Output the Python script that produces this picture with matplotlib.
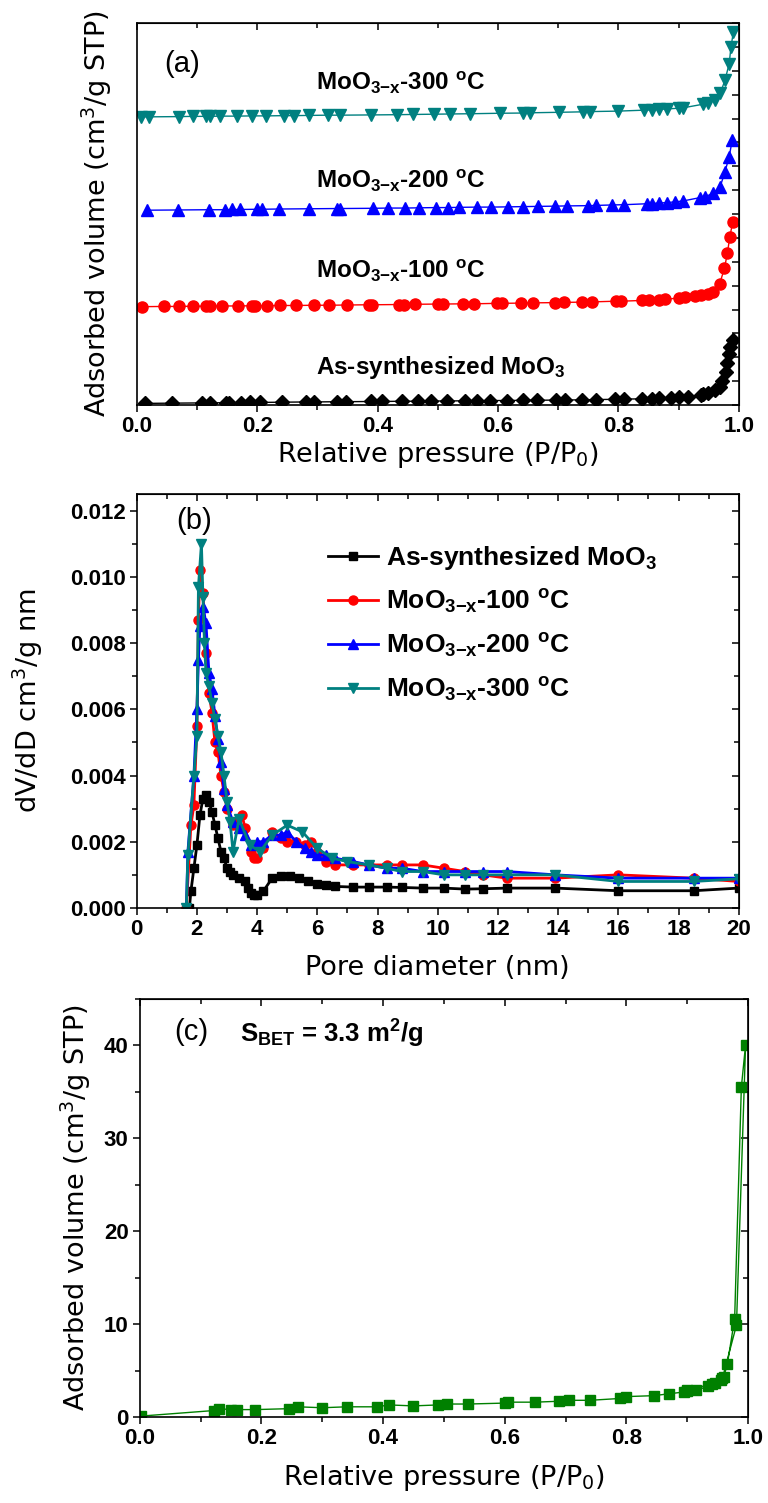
import numpy as np
import matplotlib
matplotlib.use("Agg")
import matplotlib.pyplot as plt
from matplotlib.ticker import MultipleLocator

NARROW = ['Liberation Sans', 'DejaVu Sans']
plt.rcParams['mathtext.fontset'] = 'custom'
plt.rcParams['mathtext.rm'] = 'Liberation Sans:bold'
plt.rcParams['mathtext.it'] = 'Liberation Sans:bold'
plt.rcParams['mathtext.bf'] = 'Liberation Sans:bold'

# ---- panel (a): N2 isotherms, stacked (arbitrary offset units) ----
a_black_x = [0.013, 0.059, 0.108, 0.121, 0.149, 0.154, 0.174, 0.188, 0.204, 0.241, 0.281, 0.294,
             0.333, 0.347, 0.389, 0.408, 0.440, 0.467, 0.489, 0.515, 0.546, 0.566, 0.587, 0.615,
             0.642, 0.665, 0.696, 0.712, 0.739, 0.763, 0.794, 0.810, 0.839, 0.855, 0.867, 0.888,
             0.900, 0.916, 0.937, 0.949, 0.969, 0.978, 0.984, 0.990, 0.986, 0.980, 0.972, 0.960, 0.940]
a_black_y = [0.7, 0.8, 0.9, 0.9, 1.0, 1.0, 1.0, 1.1, 1.1, 1.2, 1.3, 1.3,
             1.4, 1.4, 1.5, 1.5, 1.6, 1.6, 1.7, 1.7, 1.8, 1.8, 1.9, 1.9,
             2.0, 2.0, 2.1, 2.1, 2.2, 2.3, 2.4, 2.5, 2.6, 2.7, 2.8, 3.0,
             3.2, 3.5, 4.2, 5.2, 7.7, 14.0, 21.3, 27.2, 24.5, 17.5, 10.0, 6.5, 4.6]

a_red_x = [0.009, 0.046, 0.070, 0.094, 0.115, 0.121, 0.141, 0.169, 0.192, 0.196, 0.216, 0.238,
           0.265, 0.294, 0.320, 0.349, 0.385, 0.391, 0.436, 0.444, 0.463, 0.500, 0.509, 0.542,
           0.560, 0.599, 0.607, 0.638, 0.658, 0.695, 0.709, 0.740, 0.756, 0.796, 0.805, 0.839,
           0.851, 0.867, 0.877, 0.900, 0.910, 0.928, 0.938, 0.949, 0.957, 0.968, 0.976, 0.981,
           0.985, 0.990]
a_red_y = [41.2, 41.3, 41.3, 41.4, 41.4, 41.4, 41.5, 41.5, 41.6, 41.6, 41.6, 41.7,
           41.7, 41.8, 41.8, 41.9, 42.0, 42.0, 42.1, 42.1, 42.2, 42.3, 42.3, 42.4,
           42.4, 42.6, 42.6, 42.7, 42.8, 42.9, 43.0, 43.1, 43.2, 43.5, 43.5, 43.8,
           43.9, 44.1, 44.3, 44.8, 45.1, 45.6, 46.0, 46.7, 47.4, 50.6, 57.2, 63.5,
           70.5, 76.7]

a_blue_x = [0.017, 0.068, 0.120, 0.147, 0.159, 0.172, 0.200, 0.208, 0.237, 0.286, 0.333, 0.338,
            0.393, 0.417, 0.446, 0.469, 0.497, 0.517, 0.535, 0.566, 0.588, 0.617, 0.641, 0.666,
            0.695, 0.714, 0.749, 0.762, 0.790, 0.809, 0.847, 0.855, 0.867, 0.881, 0.894, 0.908,
            0.936, 0.944, 0.957, 0.969, 0.977, 0.984, 0.989]
a_blue_y = [81.6, 81.7, 81.8, 81.8, 81.9, 81.9, 82.0, 82.0, 82.1, 82.2, 82.3, 82.3,
            82.4, 82.5, 82.5, 82.6, 82.7, 82.7, 82.8, 82.9, 82.9, 83.0, 83.1, 83.2,
            83.3, 83.4, 83.5, 83.6, 83.8, 83.9, 84.3, 84.4, 84.6, 84.8, 85.1, 85.5,
            86.9, 87.3, 88.6, 91.4, 97.7, 104.0, 110.9]

a_teal_x = [0.007, 0.021, 0.070, 0.094, 0.115, 0.121, 0.139, 0.166, 0.192, 0.215, 0.245, 0.261,
            0.286, 0.318, 0.338, 0.389, 0.432, 0.459, 0.493, 0.521, 0.554, 0.603, 0.642, 0.654,
            0.701, 0.741, 0.753, 0.800, 0.843, 0.855, 0.867, 0.880, 0.900, 0.908, 0.941, 0.949,
            0.961, 0.969, 0.977, 0.984, 0.987, 0.991]
a_teal_y = [120.7, 120.7, 120.8, 120.9, 120.9, 120.9, 121.0, 121.0, 121.1, 121.1, 121.2, 121.2,
            121.3, 121.4, 121.4, 121.5, 121.6, 121.7, 121.8, 121.9, 122.0, 122.2, 122.3, 122.4,
            122.6, 122.8, 122.9, 123.1, 123.5, 123.6, 123.8, 124.0, 124.3, 124.5, 126.0, 126.5,
            127.7, 130.5, 136.0, 143.0, 150.0, 156.3]

# ---- panel (b): pore size distribution ----
b_black_x = [1.75, 1.8, 1.9, 2.0, 2.1, 2.2, 2.3, 2.4, 2.5, 2.6, 2.7, 2.8, 2.9, 3.0, 3.1, 3.2, 3.4,
             3.6, 3.7, 3.8, 3.9, 4.0, 4.2, 4.5, 4.8, 5.1, 5.4, 5.7, 6.0, 6.3, 6.6, 7.2, 7.7, 8.3,
             8.8, 9.5, 10.2, 10.9, 11.5, 12.3, 13.9, 16.0, 18.5, 20.0]
b_black_y = [0.0, 0.0005, 0.0012, 0.0019, 0.0028, 0.0033, 0.0034, 0.0032, 0.0029, 0.0025, 0.0021,
             0.0017, 0.0015, 0.0012, 0.0011, 0.0010, 0.0009, 0.0008, 0.0006, 0.00045, 0.0004,
             0.00038, 0.0005, 0.0009, 0.00097, 0.00097, 0.0009, 0.0008, 0.00072, 0.00068, 0.00065,
             0.00063, 0.00063, 0.00063, 0.00062, 0.0006, 0.0006, 0.00057, 0.00058, 0.0006, 0.0006,
             0.00052, 0.00052, 0.0006]

b_red_x = [1.65, 1.8, 1.9, 2.0, 2.05, 2.1, 2.2, 2.3, 2.4, 2.5, 2.6, 2.7, 2.8, 2.9, 3.0, 3.2, 3.3,
           3.5, 3.6, 3.8, 3.9, 4.0, 4.2, 4.5, 4.8, 5.0, 5.3, 5.6, 5.8, 6.0, 6.3, 6.6, 7.2, 7.7,
           8.3, 8.8, 9.5, 10.2, 10.9, 11.5, 12.3, 13.9, 16.0, 18.5, 20.0]
b_red_y = [0.0, 0.0025, 0.0031, 0.0055, 0.0087, 0.0102, 0.0095, 0.0077, 0.0065, 0.0059, 0.0050,
           0.0047, 0.0040, 0.0035, 0.0030, 0.0025, 0.0026, 0.0028, 0.0024, 0.0017, 0.0015, 0.0015,
           0.0018, 0.0023, 0.0021, 0.0020, 0.0020, 0.0019, 0.0020, 0.0017, 0.0014, 0.0013, 0.0013,
           0.0013, 0.0013, 0.0013, 0.0013, 0.0012, 0.0011, 0.0010, 0.0009, 0.0009, 0.0010, 0.0009,
           0.0008]

b_blue_x = [1.65, 1.7, 1.9, 2.0, 2.05, 2.1, 2.2, 2.3, 2.4, 2.5, 2.6, 2.7, 2.8, 2.9, 3.0, 3.2, 3.4,
            3.6, 3.8, 4.0, 4.2, 4.5, 4.8, 5.0, 5.3, 5.6, 5.8, 6.0, 6.3, 6.6, 7.2, 7.7, 8.3, 8.8,
            9.5, 10.2, 10.9, 11.5, 12.3, 13.9, 16.0, 18.5, 20.0]
b_blue_y = [0.0, 0.0017, 0.0040, 0.0060, 0.0075, 0.0085, 0.0091, 0.0086, 0.0071, 0.0066, 0.0058,
            0.0051, 0.0044, 0.0036, 0.0031, 0.0026, 0.0024, 0.0022, 0.0019, 0.0020, 0.0020, 0.0022,
            0.0022, 0.0023, 0.0020, 0.0018, 0.0017, 0.0016, 0.0016, 0.0015, 0.0014, 0.0013, 0.0012,
            0.0012, 0.0011, 0.0011, 0.0011, 0.0011, 0.0011, 0.0010, 0.0009, 0.0009, 0.0009]

b_teal_x = [1.65, 1.7, 1.9, 2.0, 2.05, 2.15, 2.2, 2.25, 2.3, 2.4, 2.5, 2.6, 2.7, 2.8, 2.9, 3.0,
            3.1, 3.2, 3.4, 3.75, 4.1, 4.5, 5.0, 5.5, 6.0, 6.5, 7.0, 7.7, 8.3, 8.8, 9.5, 10.2,
            10.9, 11.5, 12.3, 13.9, 16.0, 18.5, 20.0]
b_teal_y = [0.0, 0.0016, 0.0040, 0.0052, 0.0097, 0.0110, 0.0094, 0.0080, 0.0071, 0.0067, 0.0062,
            0.0057, 0.0052, 0.0047, 0.0040, 0.0032, 0.0026, 0.0017, 0.0027, 0.0019, 0.0017,
            0.0022, 0.0025, 0.0023, 0.0018, 0.0015, 0.0014, 0.0013, 0.0012, 0.0011, 0.0011,
            0.0010, 0.0010, 0.0010, 0.0010, 0.0010, 0.0008, 0.0008, 0.00088]

# ---- panel (c): isotherm of as-synthesized MoO3 ----
c_x = [0.002, 0.122, 0.130, 0.150, 0.160, 0.190, 0.245, 0.260, 0.300, 0.340, 0.390, 0.410,
       0.450, 0.490, 0.505, 0.540, 0.600, 0.605, 0.650, 0.690, 0.705, 0.740, 0.790, 0.800,
       0.845, 0.870, 0.895, 0.900, 0.915, 0.935, 0.945, 0.955, 0.960, 0.966, 0.978, 0.989,
       0.996, 0.981, 0.958, 0.940, 0.900]
c_y = [0.1, 0.7, 0.9, 0.8, 0.8, 0.8, 0.9, 1.1, 1.0, 1.1, 1.1, 1.3,
       1.2, 1.3, 1.4, 1.4, 1.5, 1.6, 1.6, 1.7, 1.8, 1.8, 2.0, 2.2,
       2.3, 2.5, 2.7, 2.9, 2.9, 3.3, 3.7, 4.0, 4.3, 5.7, 10.6, 35.5,
       40.1, 9.9, 4.2, 3.6, 2.8]

series_labels = ['As-synthesized MoO$_{3}$', 'MoO$_{3\\mathregular{-x}}$-100 $^{\\mathregular{o}}$C',
                 'MoO$_{3\\mathregular{-x}}$-200 $^{\\mathregular{o}}$C',
                 'MoO$_{3\\mathregular{-x}}$-300 $^{\\mathregular{o}}$C']
TEAL = '#008080'
TICKFONT = dict(family=NARROW, fontweight='bold', fontsize=16)
LABELFONT = dict(fontsize=19.5, family='DejaVu Sans')


def style_axes(ax, xmaj, xmin, ymaj, ymin, left_ticks=True):
    for s in ax.spines.values():
        s.set_linewidth(1.2)
    ax.xaxis.set_major_locator(MultipleLocator(xmaj))
    ax.xaxis.set_minor_locator(MultipleLocator(xmin))
    ax.tick_params(which='both', direction='out', top=False, right=False, width=1.1)
    ax.tick_params(which='major', length=5, pad=3)
    ax.tick_params(which='minor', length=3.5)
    if left_ticks:
        ax.yaxis.set_major_locator(MultipleLocator(ymaj))
        ax.yaxis.set_minor_locator(MultipleLocator(ymin))
    else:
        ax.tick_params(axis='y', which='both', left=False, labelleft=False)
    top = ax.secondary_xaxis('top')
    top.xaxis.set_major_locator(MultipleLocator(xmaj))
    top.xaxis.set_minor_locator(MultipleLocator(xmin))
    top.tick_params(which='both', direction='in', labeltop=False, width=1.1)
    top.tick_params(which='major', length=5)
    top.tick_params(which='minor', length=3.5)
    right = ax.secondary_yaxis('right')
    right.yaxis.set_major_locator(MultipleLocator(ymaj))
    right.yaxis.set_minor_locator(MultipleLocator(ymin))
    right.tick_params(which='both', direction='in', labelright=False, width=1.1)
    right.tick_params(which='major', length=5)
    right.tick_params(which='minor', length=3.5)


fig = plt.figure(figsize=(7.68, 15.03), dpi=100)

# (a)
ax1 = fig.add_axes([0.178, 0.7305, 0.784, 0.2542])
ax1.plot(a_black_x, a_black_y, '-D', color='black', ms=7, lw=1)
ax1.plot(a_red_x, a_red_y, '-o', color='red', ms=8, lw=1)
ax1.plot(a_blue_x, a_blue_y, '-^', color='blue', ms=8.5, lw=1)
ax1.plot(a_teal_x, a_teal_y, '-v', color=TEAL, ms=8.5, lw=1)
ax1.set_xlim(0, 1.0)
ax1.set_ylim(0, 160)
style_axes(ax1, 0.2, 0.1, 10, 10, left_ticks=False)
ax1.set_xticks([0.0, 0.2, 0.4, 0.6, 0.8, 1.0], ['0.0', '0.2', '0.4', '0.6', '0.8', '1.0'], **TICKFONT)
ax1.text(0.075, 143, '(a)', ha='center', va='center', fontsize=21, family='Liberation Sans')
for lab, yb in zip(series_labels[::-1], [131.9, 91.0, 53.0, 13.0]):
    ax1.text(0.297, yb, lab, ha='left', va='baseline', fontsize=17.5, family=NARROW, fontweight='bold')
ax1.text(0.5, -0.131, 'Relative pressure (P/P$_{\\mathregular{0}}$)', transform=ax1.transAxes,
         ha='center', va='center', **LABELFONT)
ax1.text(-0.066, 0.5, 'Adsorbed volume (cm$^{\\mathregular{3}}$/g STP)', transform=ax1.transAxes,
         rotation=90, ha='center', va='center', **LABELFONT)

# (b)
ax2 = fig.add_axes([0.178, 0.3959, 0.784, 0.2754])
ax2.plot(b_black_x, b_black_y, '-s', color='black', ms=5.5, lw=2, label=series_labels[0])
ax2.plot(b_red_x, b_red_y, '-o', color='red', ms=6.5, lw=2, label=series_labels[1])
ax2.plot(b_blue_x, b_blue_y, '-^', color='blue', ms=7, lw=2, label=series_labels[2])
ax2.plot(b_teal_x, b_teal_y, '-v', color=TEAL, ms=7, lw=2, label=series_labels[3])
ax2.set_xlim(0, 20)
ax2.set_ylim(0, 0.0125)
style_axes(ax2, 2, 1, 0.002, 0.001)
ax2.set_yticks([0, 0.002, 0.004, 0.006, 0.008, 0.010, 0.012],
               ['0.000', '0.002', '0.004', '0.006', '0.008', '0.010', '0.012'], **TICKFONT)
ax2.set_xticks(range(0, 21, 2), [str(v) for v in range(0, 21, 2)], **TICKFONT)
leg = ax2.legend(loc='upper left', bbox_to_anchor=(0.300, 0.905), frameon=False,
                 prop={'family': NARROW, 'weight': 'bold', 'size': 19},
                 handlelength=1.9, handletextpad=0.3, labelspacing=0.6, borderaxespad=0)
ax2.text(1.9, 0.0117, '(b)', ha='center', va='center', fontsize=21, family='Liberation Sans')
ax2.text(0.5, -0.145, 'Pore diameter (nm)', transform=ax2.transAxes,
         ha='center', va='center', **LABELFONT)
ax2.text(-0.181, 0.5, 'dV/dD cm$^{\\mathregular{3}}$/g nm', transform=ax2.transAxes,
         rotation=90, ha='center', va='center', **LABELFONT)

# (c)
ax3 = fig.add_axes([0.182, 0.0572, 0.792, 0.2781])
ax3.plot(c_x, c_y, '-s', color='#008000', ms=6.5, lw=1)
ax3.set_xlim(0, 1.0)
ax3.set_ylim(0, 45)
style_axes(ax3, 0.2, 0.1, 10, 5)
ax3.set_xticks([0.0, 0.2, 0.4, 0.6, 0.8, 1.0], ['0.0', '0.2', '0.4', '0.6', '0.8', '1.0'], **TICKFONT)
ax3.set_yticks([0, 10, 20, 30, 40], ['0', '10', '20', '30', '40'], **TICKFONT)
ax3.text(0.084, 41.5, '(c)', ha='center', va='center', fontsize=21, family='Liberation Sans')
ax3.text(0.165, 40.3, 'S$_{\\mathregular{BET}}$ = 3.3 m$^{\\mathregular{2}}$/g', ha='left', va='baseline',
         fontsize=18.5, family=NARROW, fontweight='bold')
ax3.text(0.5, -0.146, 'Relative pressure (P/P$_{\\mathregular{0}}$)', transform=ax3.transAxes,
         ha='center', va='center', **LABELFONT)
ax3.text(-0.105, 0.5, 'Adsorbed volume (cm$^{\\mathregular{3}}$/g STP)', transform=ax3.transAxes,
         rotation=90, ha='center', va='center', **LABELFONT)

fig.savefig('out.png', dpi=100)
